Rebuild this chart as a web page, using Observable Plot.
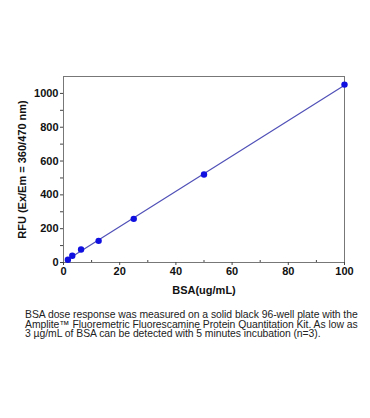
<!DOCTYPE html>
<html>
<head>
<meta charset="utf-8">
<script src="https://cdn.jsdelivr.net/npm/d3@7"></script>
<script src="https://cdn.jsdelivr.net/npm/@observablehq/plot@0.6"></script>
<style>
  html, body { margin: 0; padding: 0; background: #fff; }
  #chart { width: 370px; }
  .caption {
    font-family: "Liberation Sans", Arial, sans-serif;
    font-size: 10.4px;
    line-height: 9.5px;
    letter-spacing: -0.05px;
    color: #222;
    margin: 10px 0 0 25px;
  }
  .caption div { white-space: nowrap; }
</style>
</head>
<body>
<div id="chart"></div>
<script>
const bsa = [1.5625, 3.125, 6.25, 12.5, 25, 50, 100];
const rfu = [16, 40, 77, 128, 258, 520, 1052];
const xTicks = [0, 20, 40, 60, 80, 100];
const xMinor = [10, 30, 50, 70, 90];
const yTicks = [0, 200, 400, 600, 800, 1000];
const yMinor = [100, 300, 500, 700, 900];
const xLabel = "BSA(ug/mL)";
const yLabel = "RFU (Ex/Em = 360/470 nm)";
const captionLines = [
  "BSA dose response was measured on a solid black 96-well plate with the",
  "Amplite™ Fluoremetric Fluorescamine Protein Quantitation Kit. As low as",
  "3 µg/mL of BSA can be detected with 5 minutes incubation (n=3)."
];

const data = bsa.map((x, i) => ({x, y: rfu[i]}));

const chart = Plot.plot({
  width: 370,
  height: 300,
  marginLeft: 63,
  marginRight: 26,
  marginTop: 76,
  marginBottom: 38,
  style: {fontFamily: "'Liberation Sans', Arial, sans-serif", fontSize: "11px", fontWeight: "bold", color: "#111"},
  x: {domain: [0, 100]},
  y: {domain: [0, 1100]},
  marks: [
    Plot.frame({stroke: "#777", strokeWidth: 1}),
    Plot.axisX({ticks: xTicks, tickSize: 3, tickPadding: 2, tickFormat: "d", label: null, stroke: "#444"}),
    Plot.axisX({ticks: xMinor, tickSize: -2, text: null, label: null, stroke: "#444"}),
    Plot.axisY({ticks: yTicks, tickSize: 3, tickPadding: 2, tickFormat: "d", label: null, stroke: "#444"}),
    Plot.axisY({ticks: yMinor, tickSize: 3, text: null, label: null, stroke: "#444"}),
    Plot.linearRegressionY(data, {x: "x", y: "y", ci: 0, stroke: "#5050b8", strokeWidth: 1.2}),
    Plot.dot(data, {x: "x", y: "y", r: 3.2, fill: "#1010e0", stroke: "none"}),
    Plot.text([xLabel], {frameAnchor: "bottom", textAnchor: "middle", dy: 31, fontSize: 11, fontWeight: "bold"}),
    Plot.text([yLabel], {frameAnchor: "left", textAnchor: "middle", dx: -41, rotate: -90, fontSize: 11, fontWeight: "bold"})
  ]
});
document.getElementById("chart").appendChild(chart);
const cap = document.createElement("div");
cap.className = "caption";
for (const line of captionLines) {
  const d = document.createElement("div");
  d.textContent = line;
  cap.appendChild(d);
}
document.body.appendChild(cap);
</script>
</body>
</html>
